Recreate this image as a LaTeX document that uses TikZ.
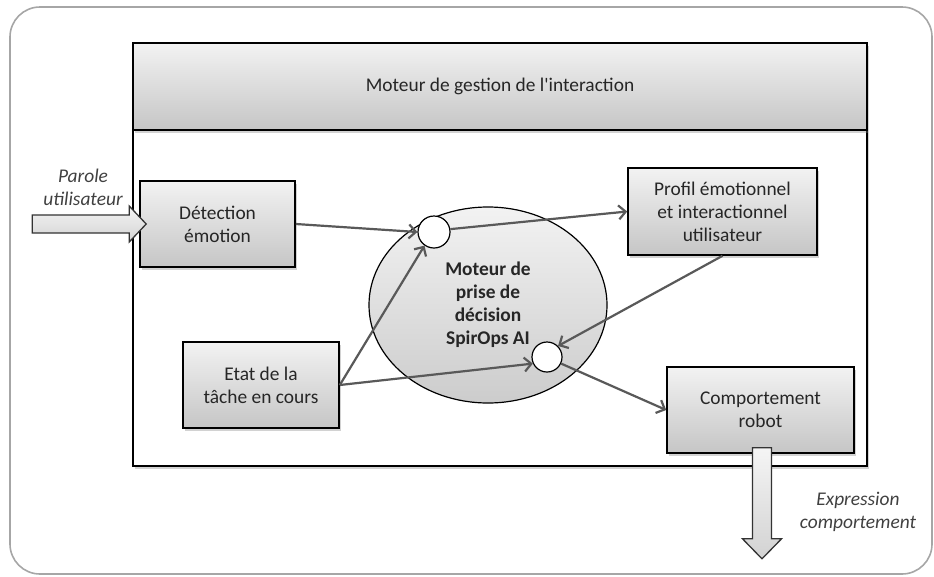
\documentclass[tikz,border=0pt]{standalone}
\usepackage{fontspec}
\setmainfont{Carlito}
\usetikzlibrary{shapes.geometric,shadows,arrows.meta,calc}
\begin{document}
\begin{tikzpicture}[x=1pt,y=-1pt,
  every node/.style={font=\fontsize{19.4}{23}\selectfont, text=black!85},
  boxnode/.style={draw=black, line width=1.6pt, top color=gray!10, bottom color=gray!45, align=center, inner sep=0pt,
    drop shadow={shadow xshift=2pt,shadow yshift=-2.5pt,opacity=0.35}},
  link/.style={draw=black!65, line width=2.2pt, -{Straight Barb[length=7pt,width=14pt]}},
  hub/.style={circle, draw=black, line width=1.2pt, fill=white, minimum size=32pt, inner sep=0pt},
  lbl/.style={font=\fontsize{19.4}{23}\selectfont\itshape, align=center, text=black!75},
  bigarrow/.style={draw=black!80, line width=1.3pt, top color=gray!8, bottom color=gray!35}
]
\useasboundingbox (0,0) rectangle (934,576);
\draw[black!35, line width=1.6pt, rounded corners=30pt] (10,7) rectangle (932,574);

\node[draw=black, line width=2pt, fill=white, minimum width=734pt, minimum height=336pt, inner sep=0pt,
  drop shadow={shadow xshift=2pt,shadow yshift=-2.5pt,opacity=0.35}] (main) at (500,298) {};
\node[boxnode, minimum width=734pt, minimum height=87pt, line width=2pt] (head) at (500,86.5) {Moteur de gestion de l\textquotesingle interaction};

\node[boxnode, minimum width=155pt, minimum height=86pt] (det) at (217.5,224) {Détection\\émotion};
\node[boxnode, minimum width=156pt, minimum height=86pt] (etat) at (261,385) {Etat de la\\tâche en cours};
\node[boxnode, minimum width=189pt, minimum height=87pt] (prof) at (722.5,211.5) {Profil émotionnel\\et interactionnel\\utilisateur};
\node[boxnode, minimum width=187pt, minimum height=86pt] (comp) at (760.5,410) {Comportement\\robot};

\node[ellipse, draw=black, line width=1.2pt, top color=gray!10, bottom color=gray!40, minimum width=238pt, minimum height=196pt,
  inner sep=0pt, align=center, font=\fontsize{19.4}{23}\selectfont\bfseries] (moteur) at (488,305) {Moteur de\\prise de\\décision\\SpirOps AI};

\node[hub] (c1) at (434,232) {};
\node[hub, minimum size=30pt] (c2) at (547,357) {};

\draw[link] (det.east) -- (c1.west);
\draw[link] (etat.east) -- (c1.235);
\draw[link] (etat.east) -- (c2.205);
\draw[link] (c1.10) -- (prof.west);
\draw[link] (prof.south) -- (c2.45);
\draw[link] (c2.-25) -- (comp.west);

\coordinate (inTip) at ($(det.west)+(7,0)$);
\draw[bigarrow] ($(inTip)+(-114,-9)$) -- ($(inTip)+(-17,-9)$) -- ($(inTip)+(-17,-18)$) -- (inTip)
  -- ($(inTip)+(-17,18)$) -- ($(inTip)+(-17,9)$) -- ($(inTip)+(-114,9)$) -- cycle;

\coordinate (outTop) at ($(comp.south)+(1.5,-6)$);
\draw[bigarrow] ($(outTop)+(-9.5,0)$) -- ($(outTop)+(9.5,0)$) -- ($(outTop)+(9.5,91)$) -- ($(outTop)+(19.5,91)$)
  -- ($(outTop)+(0,111)$) -- ($(outTop)+(-19.5,91)$) -- ($(outTop)+(-9.5,91)$) -- cycle;

\node[lbl] (lin) at (83,187) {Parole\\utilisateur};
\node[lbl] (lout) at (858,512) {Expression\\comportement};
\end{tikzpicture}
\end{document}
